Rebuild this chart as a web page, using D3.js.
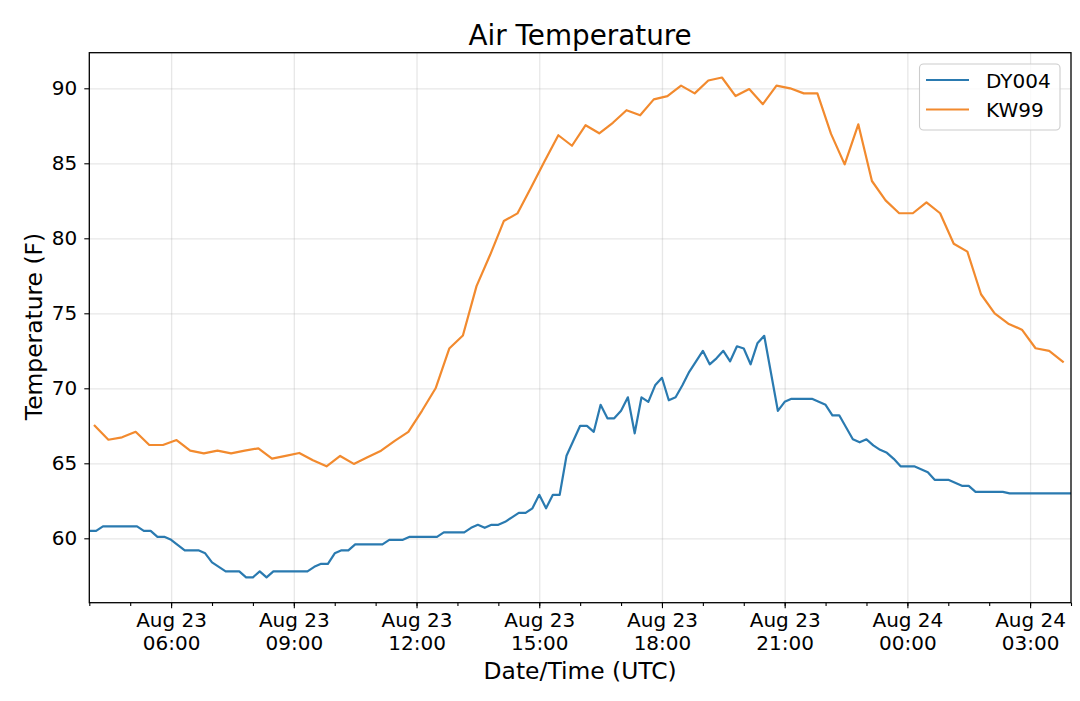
<!DOCTYPE html>
<meta charset="utf-8">
<head>
    <title>Air Temperature</title>
    <script src="https://d3js.org/d3.v7.min.js"></script>
    <style>
        body { margin: 0; background: #ffffff; }
        text { font-family: "DejaVu Sans", sans-serif; fill: #000; }
    </style>
</head>
<body>
<div id="my_dataviz"></div>
<script>

// ---- data ----
// DY004: one reading every 10 minutes, 04:00 Aug 23 -> 04:00 Aug 24 (UTC)
var dy004Start = "2019-08-23T04:00:00Z";
var dy004StepMin = 10;
var dy004Temps = [
    60.5, 60.5, 60.8, 60.8, 60.8, 60.8,   // 04h
    60.8, 60.8, 60.5, 60.5, 60.1, 60.1,   // 05h
    59.9, 59.55, 59.2, 59.2, 59.2, 59.0,  // 06h
    58.4, 58.1, 57.8, 57.8, 57.8, 57.4,   // 07h
    57.4, 57.8, 57.4, 57.8, 57.8, 57.8,   // 08h
    57.8, 57.8, 57.8, 58.1, 58.3, 58.3,   // 09h
    59.0, 59.2, 59.2, 59.6, 59.6, 59.6,   // 10h
    59.6, 59.6, 59.9, 59.9, 59.9, 60.1,   // 11h
    60.1, 60.1, 60.1, 60.1, 60.4, 60.4,   // 12h
    60.4, 60.4, 60.7, 60.9, 60.7, 60.9,   // 13h
    60.9, 61.1, 61.4, 61.7, 61.7, 62.0,   // 14h
    62.9, 62.0, 62.9, 62.9, 65.5, 66.5,   // 15h
    67.5, 67.5, 67.1, 68.9, 68.0, 68.0,   // 16h
    68.5, 69.4, 67.0, 69.4, 69.1, 70.2,   // 17h
    70.7, 69.2, 69.4, 70.2, 71.1, 71.8,   // 18h
    72.5, 71.6, 72.0, 72.5, 71.8, 72.8,   // 19h
    72.65, 71.6, 73.0, 73.5, 71.0, 68.5,  // 20h
    69.1, 69.3, 69.3, 69.3, 69.3, 69.1,   // 21h
    68.9, 68.2, 68.2, 67.4, 66.6, 66.4,   // 22h
    66.6, 66.2, 65.9, 65.7, 65.3, 64.8,   // 23h
    64.8, 64.8, 64.6, 64.4, 63.9, 63.9,   // 00h
    63.9, 63.7, 63.5, 63.5, 63.1, 63.1,   // 01h
    63.1, 63.1, 63.1, 63.0, 63.0, 63.0,   // 02h
    63.0, 63.0, 63.0, 63.0, 63.0, 63.0,   // 03h
    63.0                                  // 04h
];

// KW99: one reading every 20 minutes, 04:08 Aug 23 -> 03:48 Aug 24 (UTC)
var kw99Start = "2019-08-23T04:08:00Z";
var kw99StepMin = 20;
var kw99Temps = [
    67.5, 66.57, 66.73,   // 04h
    67.1, 66.22, 66.22,   // 05h
    66.55, 65.84, 65.66,  // 06h
    65.84, 65.66, 65.84,  // 07h
    66.0, 65.31, 65.5,    // 08h
    65.69, 65.2, 64.8,    // 09h
    65.49, 64.96, 65.4,   // 10h
    65.84, 66.5, 67.1,    // 11h
    68.5, 70.0, 72.65,    // 12h
    73.52, 76.81, 78.9,   // 13h
    81.15, 81.66, 83.38,  // 14h
    85.16, 86.87, 86.17,  // 15h
    87.54, 87.0, 87.7,    // 16h
    88.54, 88.2, 89.26,   // 17h
    89.48, 90.18, 89.66,  // 18h
    90.52, 90.72, 89.48,  // 19h
    89.95, 88.94, 90.18,  // 20h
    90.0, 89.66, 89.66,   // 21h
    86.96, 84.93, 87.6,   // 22h
    83.82, 82.53, 81.67,  // 23h
    81.67, 82.4, 81.67,   // 00h
    79.64, 79.11, 76.27,  // 01h
    75.0, 74.31, 73.91,   // 02h
    72.67, 72.49, 71.78   // 03h
];

var seriesNames = ["DY004", "KW99"];
var seriesColors = ["#2a7ab0", "#f28a2e"];

// axes
var xStart = "2019-08-23T04:00:00Z";
var xEnd = "2019-08-24T04:00:00Z";
var xMajorTicks = ["2019-08-23T06:00:00Z", "2019-08-23T09:00:00Z", "2019-08-23T12:00:00Z",
                   "2019-08-23T15:00:00Z", "2019-08-23T18:00:00Z", "2019-08-23T21:00:00Z",
                   "2019-08-24T00:00:00Z", "2019-08-24T03:00:00Z"];
var yTicks = [60, 65, 70, 75, 80, 85, 90];
var yDomain = [55.707, 92.373];

// ---- layout ----
var W = 1080, H = 701;
var plot = {left: 89.3, right: 1071, top: 52.7, bottom: 602.7};
var plotH = plot.bottom - plot.top;

var svg = d3.select("#my_dataviz")
    .append("svg")
    .attr("width", W)
    .attr("height", H);

var parseT = d3.isoParse;

var x = d3.scaleUtc()
    .domain([parseT(xStart), parseT(xEnd)])
    .range([plot.left, plot.right]);

var y = d3.scaleLinear()
    .domain(yDomain)
    .range([plot.bottom, plot.top]);

var majorDates = xMajorTicks.map(parseT);
var minorDates = d3.utcHour.range(parseT(xStart), d3.utcMinute.offset(parseT(xEnd), 1));

// build series
function makeSeries(start, stepMin, temps) {
    var t0 = parseT(start);
    return temps.map(function(v, i) {
        return {t: d3.utcMinute.offset(t0, i * stepMin), v: v};
    });
}
var series = [
    makeSeries(dy004Start, dy004StepMin, dy004Temps),
    makeSeries(kw99Start, kw99StepMin, kw99Temps)
];

// grid
var gridX = svg.append("g")
    .attr("transform", "translate(0," + plot.bottom + ")")
    .call(d3.axisBottom(x).tickValues(majorDates).tickSize(-plotH).tickFormat(""));
var gridY = svg.append("g")
    .attr("transform", "translate(" + plot.left + ",0)")
    .call(d3.axisLeft(y).tickValues(yTicks).tickSize(-(plot.right - plot.left)).tickFormat(""));
[gridX, gridY].forEach(function(g) {
    g.select(".domain").remove();
    g.selectAll(".tick line")
        .attr("stroke", "#b0b0b0")
        .attr("stroke-opacity", 0.3)
        .attr("stroke-width", 1.3);
});

// lines
svg.append("clipPath").attr("id", "clip")
    .append("rect")
    .attr("x", plot.left).attr("y", plot.top)
    .attr("width", plot.right - plot.left).attr("height", plotH);

var line = d3.line()
    .x(function(d) { return x(d.t); })
    .y(function(d) { return y(d.v); });

series.forEach(function(s, i) {
    svg.append("path")
        .datum(s)
        .attr("clip-path", "url(#clip)")
        .attr("fill", "none")
        .attr("stroke", seriesColors[i])
        .attr("stroke-width", 2.2)
        .attr("stroke-linejoin", "round")
        .attr("stroke-linecap", "square")
        .attr("d", line);
});

// frame
svg.append("rect")
    .attr("x", plot.left).attr("y", plot.top)
    .attr("width", plot.right - plot.left).attr("height", plotH)
    .attr("fill", "none")
    .attr("stroke", "#000")
    .attr("stroke-width", 1.3);

// x axis: minor ticks then major ticks with two-line labels
var xMinor = svg.append("g")
    .attr("transform", "translate(0," + plot.bottom + ")")
    .call(d3.axisBottom(x).tickValues(minorDates).tickSize(3.3).tickFormat(""));
xMinor.select(".domain").remove();

var fmtDay = d3.utcFormat("%b %d"), fmtHour = d3.utcFormat("%H:%M");
var xAxis = svg.append("g")
    .attr("transform", "translate(0," + plot.bottom + ")")
    .call(d3.axisBottom(x).tickValues(majorDates).tickSize(5.5).tickPadding(0).tickFormat(""));
xAxis.select(".domain").remove();
xAxis.selectAll(".tick text").remove();
xAxis.selectAll(".tick").each(function(d) {
    var t = d3.select(this).append("text")
        .attr("text-anchor", "middle")
        .style("font-size", "20px");
    t.append("tspan").attr("x", 0).attr("y", 24).text(fmtDay(d));
    t.append("tspan").attr("x", 0).attr("y", 47.5).text(fmtHour(d));
});
svg.selectAll(".tick line").filter(function() { return this.getAttribute("stroke-opacity") === null; })
    .attr("stroke", "#000").attr("stroke-width", 1.1);

// y axis
var yAxis = svg.append("g")
    .attr("transform", "translate(" + plot.left + ",0)")
    .call(d3.axisLeft(y).tickValues(yTicks).tickSize(5).tickPadding(7));
yAxis.select(".domain").remove();
yAxis.selectAll(".tick line").attr("stroke", "#000").attr("stroke-width", 1.1);
yAxis.selectAll(".tick text")
    .attr("font-family", null)
    .style("font-size", "20px")
    .attr("fill", "#000");

// titles
var cx = (plot.left + plot.right) / 2;
svg.append("text")
    .attr("x", cx).attr("y", 45)
    .attr("text-anchor", "middle")
    .style("font-size", "27.8px")
    .text("Air Temperature");
svg.append("text")
    .attr("x", cx).attr("y", 679)
    .attr("text-anchor", "middle")
    .style("font-size", "23.4px")
    .text("Date/Time (UTC)");
svg.append("text")
    .attr("transform", "translate(41.5,326.5) rotate(-90)")
    .attr("text-anchor", "middle")
    .style("font-size", "23.4px")
    .text("Temperature (F)");

// legend
var legend = svg.append("g");
legend.append("rect")
    .attr("x", 919.5).attr("y", 64)
    .attr("width", 140.5).attr("height", 66)
    .attr("rx", 4)
    .attr("fill", "#fff").attr("fill-opacity", 0.8)
    .attr("stroke", "#cccccc").attr("stroke-width", 1.1);
seriesNames.forEach(function(name, i) {
    var ly = 80 + i * 29.5;
    legend.append("line")
        .attr("x1", 926).attr("x2", 969)
        .attr("y1", ly).attr("y2", ly)
        .attr("stroke", seriesColors[i])
        .attr("stroke-width", 2.2);
    legend.append("text")
        .attr("x", 986).attr("y", ly + 7.5)
        .style("font-size", "20px")
        .text(name);
});
</script>
</body>
</html>
